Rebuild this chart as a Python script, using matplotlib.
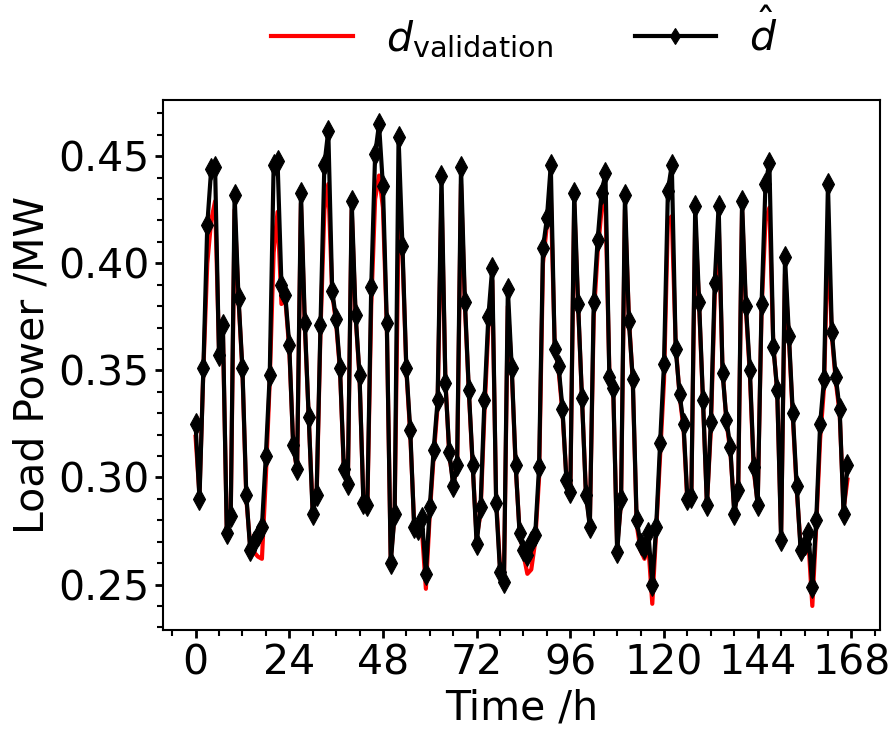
import numpy as np
import matplotlib
matplotlib.use("Agg")
import matplotlib.pyplot as plt
from matplotlib.ticker import MultipleLocator

# hourly load over one week (MW)
hours = list(range(168))

d_validation = [
    0.319, 0.292, 0.350, 0.400, 0.420, 0.429, 0.360, 0.368, 0.276, 0.280,
    0.425, 0.383, 0.350, 0.290, 0.268, 0.265, 0.263, 0.262, 0.300, 0.345,
    0.405, 0.424, 0.381, 0.383, 0.360, 0.316, 0.303, 0.428, 0.370, 0.327,
    0.285, 0.290, 0.368, 0.425, 0.437, 0.386, 0.372, 0.350, 0.303, 0.296,
    0.425, 0.375, 0.347, 0.289, 0.286, 0.380, 0.430, 0.441, 0.426, 0.370,
    0.262, 0.283, 0.418, 0.405, 0.350, 0.320, 0.278, 0.274, 0.275, 0.248,
    0.283, 0.310, 0.333, 0.432, 0.346, 0.310, 0.298, 0.303, 0.437, 0.380,
    0.340, 0.305, 0.272, 0.283, 0.330, 0.370, 0.392, 0.290, 0.258, 0.252,
    0.380, 0.350, 0.305, 0.275, 0.264, 0.255, 0.257, 0.270, 0.300, 0.400,
    0.418, 0.432, 0.362, 0.350, 0.330, 0.300, 0.292, 0.428, 0.380, 0.336,
    0.293, 0.278, 0.375, 0.405, 0.425, 0.428, 0.350, 0.340, 0.268, 0.288,
    0.425, 0.375, 0.345, 0.278, 0.266, 0.262, 0.268, 0.241, 0.275, 0.310,
    0.345, 0.420, 0.422, 0.362, 0.338, 0.323, 0.288, 0.290, 0.420, 0.380,
    0.335, 0.288, 0.322, 0.385, 0.420, 0.350, 0.326, 0.312, 0.285, 0.292,
    0.425, 0.378, 0.348, 0.303, 0.288, 0.378, 0.420, 0.426, 0.362, 0.340,
    0.273, 0.395, 0.365, 0.328, 0.294, 0.268, 0.266, 0.270, 0.240, 0.277,
    0.318, 0.342, 0.415, 0.366, 0.345, 0.330, 0.285, 0.299,
]

d_hat = [
    0.325, 0.290, 0.351, 0.418, 0.444, 0.445, 0.357, 0.371, 0.274, 0.282,
    0.432, 0.384, 0.351, 0.292, 0.266, 0.270, 0.273, 0.277, 0.310, 0.348,
    0.446, 0.448, 0.390, 0.385, 0.362, 0.315, 0.304, 0.433, 0.372, 0.328,
    0.283, 0.292, 0.371, 0.446, 0.462, 0.387, 0.374, 0.351, 0.304, 0.297,
    0.429, 0.376, 0.348, 0.288, 0.287, 0.389, 0.451, 0.465, 0.436, 0.372,
    0.260, 0.283, 0.459, 0.408, 0.351, 0.322, 0.277, 0.276, 0.281, 0.255,
    0.286, 0.313, 0.336, 0.441, 0.344, 0.312, 0.296, 0.306, 0.445, 0.382,
    0.341, 0.306, 0.269, 0.286, 0.336, 0.375, 0.398, 0.288, 0.256, 0.251,
    0.388, 0.351, 0.306, 0.274, 0.266, 0.264, 0.270, 0.273, 0.305, 0.407,
    0.421, 0.446, 0.360, 0.352, 0.332, 0.299, 0.293, 0.433, 0.381, 0.337,
    0.292, 0.277, 0.382, 0.411, 0.433, 0.442, 0.347, 0.342, 0.265, 0.290,
    0.432, 0.373, 0.346, 0.280, 0.269, 0.267, 0.274, 0.250, 0.277, 0.316,
    0.353, 0.434, 0.446, 0.360, 0.339, 0.325, 0.290, 0.291, 0.427, 0.382,
    0.336, 0.287, 0.326, 0.391, 0.427, 0.349, 0.327, 0.314, 0.283, 0.294,
    0.429, 0.380, 0.350, 0.305, 0.287, 0.381, 0.437, 0.447, 0.361, 0.341,
    0.271, 0.403, 0.366, 0.330, 0.296, 0.266, 0.269, 0.274, 0.249, 0.280,
    0.325, 0.346, 0.437, 0.368, 0.347, 0.332, 0.283, 0.306,
]

x_ticks = [0, 24, 48, 72, 96, 120, 144, 168]

fs = 29.5

fig = plt.figure(figsize=(8.93, 7.33), dpi=100)
ax = fig.add_axes([0.1825, 0.1405, 0.803, 0.723])

ax.plot(hours, d_validation, color="red", lw=3, label=r"$d_{\mathrm{validation}}$")
ax.plot(hours, d_hat, color="black", lw=3, marker="d", markersize=11,
        markeredgewidth=0.8, label=r"$\hat{d}$")

ax.set_xticks(x_ticks)
ax.xaxis.set_minor_locator(MultipleLocator(6))
ax.yaxis.set_major_locator(MultipleLocator(0.05))
ax.yaxis.set_minor_locator(MultipleLocator(0.01))
ax.tick_params(which="major", labelsize=fs, length=6, width=2)
ax.tick_params(which="minor", length=4, width=1.5)
for s in ax.spines.values():
    s.set_linewidth(1.5)

ax.set_xlabel("Time /h", fontsize=fs, labelpad=4)
ax.set_ylabel("Load Power /MW", fontsize=fs, labelpad=4)

fig.legend(loc="center", bbox_to_anchor=(0.587, 0.953), ncol=2,
           frameon=False, fontsize=fs, markerscale=0.75)

fig.savefig("out.png", dpi=100)
